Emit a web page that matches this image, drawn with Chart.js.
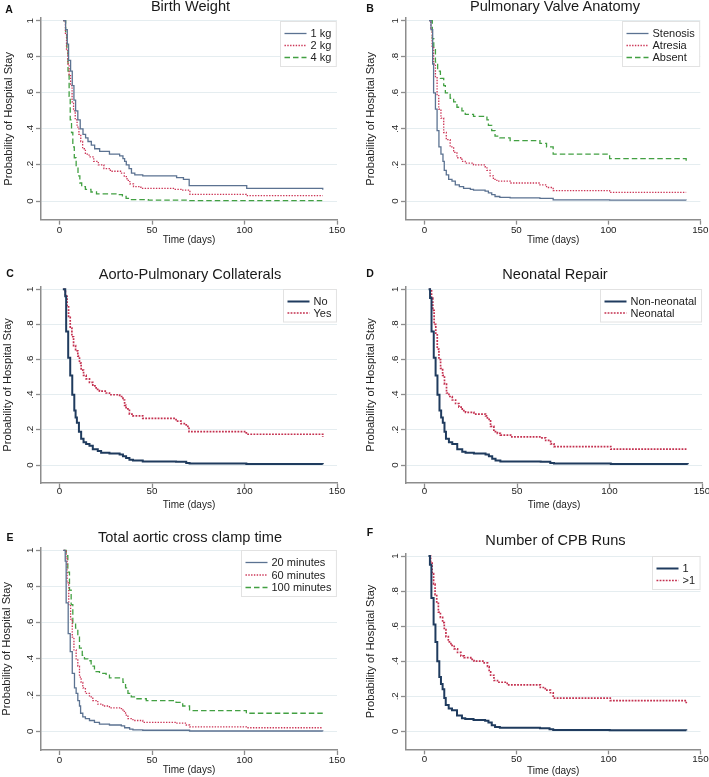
<!DOCTYPE html>
<html><head><meta charset="utf-8">
<script src="https://cdn.jsdelivr.net/npm/chart.js@4.4.1/dist/chart.umd.min.js"></script>
<style>
html,body{margin:0;padding:0;background:#fff;}
body{width:709px;height:777px;position:relative;overflow:hidden;font-family:"Liberation Sans",Arial,Helvetica,sans-serif;}
.pn{position:absolute;}
.pn canvas{display:block;}
.ttl{position:absolute;white-space:nowrap;font-size:14.6px;line-height:1;color:#1a1a1a;transform:translateX(-50%);}
.lt{position:absolute;white-space:nowrap;font-size:10.5px;font-weight:bold;line-height:1;color:#111;transform:translateX(-50%);}
</style></head><body>
<div class="pn" style="left:0;top:0"><canvas id="cA" width="354" height="258"></canvas></div>
<div class="pn" style="left:354px;top:0"><canvas id="cB" width="355" height="258"></canvas></div>
<div class="pn" style="left:0;top:258px"><canvas id="cC" width="354" height="259"></canvas></div>
<div class="pn" style="left:354px;top:258px"><canvas id="cD" width="355" height="259"></canvas></div>
<div class="pn" style="left:0;top:517px"><canvas id="cE" width="354" height="260"></canvas></div>
<div class="pn" style="left:354px;top:517px"><canvas id="cF" width="355" height="260"></canvas></div>

<div class="ttl" style="left:190.5px;top:-1.2px">Birth Weight</div>
<div class="ttl" style="left:555px;top:-0.6px">Pulmonary Valve Anatomy</div>
<div class="ttl" style="left:190px;top:266.8px">Aorto-Pulmonary Collaterals</div>
<div class="ttl" style="left:555px;top:266.8px">Neonatal Repair</div>
<div class="ttl" style="left:190px;top:529.8px">Total aortic cross clamp time</div>
<div class="ttl" style="left:555.5px;top:532.5px">Number of CPB Runs</div>

<div class="lt" style="left:9px;top:4px">A</div>
<div class="lt" style="left:370px;top:3px">B</div>
<div class="lt" style="left:10px;top:268px">C</div>
<div class="lt" style="left:370px;top:268px">D</div>
<div class="lt" style="left:10px;top:532.3px">E</div>
<div class="lt" style="left:370px;top:527.3px">F</div>

<script>
// ================= DATA =================
const xTickValues = [0, 50, 100, 150];
const xTickLabels = ['0', '50', '100', '150'];
const yTickValues = [0, 0.2, 0.4, 0.6, 0.8, 1];
const yTickLabels = ['0', '.2', '.4', '.6', '.8', '1'];

// A — Birth Weight
const bwLabels = ['1 kg', '2 kg', '4 kg'];
const bw1Days = [2, 3.3, 4.2, 4.9, 6, 6.9, 7.8, 8.7, 9.9, 11.2, 12.7, 14.1, 15.4, 17.2, 19, 21.7, 27, 32.5, 34.3, 35.2, 36.1, 37.6, 38.9, 40.7, 45, 63.3, 67, 70.1, 101.2, 141.5, 142.3];
const bw1Prob = [1, 0.95, 0.87, 0.78, 0.72, 0.64, 0.56, 0.5, 0.45, 0.4, 0.37, 0.35, 0.33, 0.31, 0.29, 0.275, 0.26, 0.25, 0.235, 0.22, 0.2, 0.18, 0.155, 0.145, 0.14, 0.13, 0.12, 0.085, 0.07, 0.07, 0.062];
const bw2Days = [2, 3.2, 3.8, 4.5, 5.2, 6, 6.8, 7.6, 8.5, 9.5, 10.5, 11.5, 12.5, 14, 16, 18.5, 21, 24, 27.5, 33, 35, 36.5, 38, 40, 44, 62, 66, 70.5, 101, 142.3];
const bw2Prob = [1, 0.93, 0.84, 0.76, 0.70, 0.64, 0.55, 0.50, 0.45, 0.41, 0.37, 0.33, 0.29, 0.26, 0.245, 0.22, 0.2, 0.18, 0.165, 0.155, 0.135, 0.115, 0.095, 0.08, 0.07, 0.065, 0.06, 0.037, 0.03, 0.03];
const bw4Days = [2, 3.3, 4, 4.6, 5.2, 5.8, 6.5, 7.2, 8, 9, 10, 11, 12, 14, 17, 20, 31, 34, 36, 38, 48, 70, 142.3];
const bw4Prob = [1, 0.94, 0.84, 0.72, 0.58, 0.45, 0.38, 0.30, 0.24, 0.19, 0.14, 0.10, 0.08, 0.065, 0.05, 0.04, 0.035, 0.025, 0.015, 0.008, 0.005, 0.002, 0.002];

// B — Pulmonary Valve Anatomy
const pvLabels = ['Stenosis', 'Atresia', 'Absent'];
const pvStenDays = [2.5, 3.6, 4.5, 5, 6, 6.9, 7.9, 9, 10.1, 10.8, 11.9, 13.2, 15, 16.8, 19, 21.3, 25, 26.7, 33, 34.8, 36.6, 38.4, 41, 46.6, 62.8, 70, 100.7, 142.3];
const pvStenProb = [1, 0.95, 0.76, 0.60, 0.51, 0.39, 0.30, 0.26, 0.22, 0.17, 0.145, 0.12, 0.11, 0.09, 0.08, 0.07, 0.065, 0.06, 0.055, 0.045, 0.035, 0.025, 0.02, 0.017, 0.015, 0.006, 0.005, 0.004];
const pvAtrDays = [2.5, 3.5, 4.2, 5, 6, 6.9, 7.8, 9, 10.5, 11.9, 14, 15.9, 17.7, 20.4, 22.2, 26.7, 33, 34, 35.7, 37.5, 39.4, 46.6, 62.8, 66.4, 70, 100.7, 142.3];
const pvAtrProb = [1, 0.95, 0.85, 0.76, 0.69, 0.59, 0.51, 0.46, 0.38, 0.34, 0.30, 0.27, 0.24, 0.22, 0.21, 0.20, 0.19, 0.17, 0.14, 0.12, 0.11, 0.10, 0.09, 0.075, 0.058, 0.048, 0.048];
const pvAbsDays = [2.9, 4.3, 5.1, 6, 7.2, 8.7, 10.5, 11.4, 14, 15.9, 17.7, 20.4, 22.2, 26.7, 34, 34.8, 36.6, 38.4, 41, 46.6, 62.8, 66.4, 70, 100.7, 141.8, 142.3];
const pvAbsProb = [1, 0.90, 0.84, 0.77, 0.72, 0.68, 0.64, 0.60, 0.57, 0.55, 0.52, 0.50, 0.48, 0.47, 0.45, 0.42, 0.39, 0.36, 0.35, 0.335, 0.32, 0.30, 0.26, 0.235, 0.235, 0.22];

// C — Aorto-Pulmonary Collaterals
const apcLabels = ['No', 'Yes'];
const apcNoDays = [1.8, 3.1, 3.6, 4.7, 5.8, 6.9, 8, 8.7, 9.4, 10.5, 11.7, 13, 14.4, 16.2, 18, 20.7, 22.5, 27, 32.5, 34.3, 36, 37.8, 39.7, 45, 63, 68.5, 70.3, 101, 142.3];
const apcNoProb = [1, 0.96, 0.76, 0.61, 0.51, 0.40, 0.31, 0.27, 0.24, 0.19, 0.15, 0.13, 0.12, 0.11, 0.09, 0.08, 0.07, 0.065, 0.06, 0.05, 0.04, 0.03, 0.025, 0.02, 0.018, 0.012, 0.008, 0.006, 0.005];
const apcYesDays = [2.2, 3.2, 4.1, 4.9, 5.8, 6.7, 7.6, 8.7, 9.9, 10.8, 11.7, 13, 14.4, 16.2, 18, 19.8, 21.6, 25.2, 27, 32.5, 34.3, 35.2, 36, 37.8, 39.7, 45, 63, 65.7, 68.5, 70, 101, 141.8, 142.3];
const apcYesProb = [1, 0.96, 0.90, 0.84, 0.78, 0.73, 0.68, 0.65, 0.62, 0.58, 0.54, 0.51, 0.49, 0.47, 0.45, 0.43, 0.42, 0.41, 0.40, 0.39, 0.37, 0.34, 0.32, 0.29, 0.28, 0.265, 0.25, 0.235, 0.22, 0.19, 0.175, 0.175, 0.16];

// D — Neonatal Repair
const neoLabels = ['Non-neonatal', 'Neonatal'];
const neoNonDays = [2.2, 3, 3.8, 5, 6, 7, 8.1, 9, 9.9, 10.8, 11.6, 13.2, 15, 17.7, 20.4, 22.2, 26.7, 33, 34.8, 36.6, 38.4, 41, 62.8, 68, 70, 100.7, 142.3];
const neoNonProb = [1, 0.95, 0.76, 0.61, 0.51, 0.40, 0.31, 0.27, 0.24, 0.19, 0.15, 0.13, 0.12, 0.09, 0.075, 0.07, 0.065, 0.06, 0.05, 0.035, 0.025, 0.02, 0.018, 0.012, 0.008, 0.006, 0.005];
const neoYesDays = [2.5, 3.8, 4.5, 5.2, 6.1, 6.9, 7.8, 8.7, 9.8, 10.8, 11.9, 13.2, 15, 16.8, 18.6, 20.4, 22.2, 26.7, 33, 34, 35.7, 37.5, 39.4, 41, 46.6, 62.8, 65.5, 68.2, 70, 100.7, 142.3];
const neoYesProb = [1, 0.95, 0.88, 0.80, 0.75, 0.66, 0.60, 0.55, 0.51, 0.46, 0.41, 0.39, 0.37, 0.35, 0.33, 0.31, 0.30, 0.29, 0.28, 0.26, 0.22, 0.19, 0.18, 0.17, 0.16, 0.155, 0.14, 0.12, 0.105, 0.09, 0.09];

// E — Total aortic cross clamp time
const xclLabels = ['20 minutes', '60 minutes', '100 minutes'];
const xcl20Days = [2, 3.1, 3.6, 4.7, 5.8, 6.9, 8.1, 9, 9.9, 10.8, 11.4, 12.6, 14, 16.2, 18.9, 21.6, 27, 33.4, 35.2, 37.9, 39.7, 45, 70.3, 142.3];
const xcl20Prob = [1, 0.94, 0.71, 0.54, 0.44, 0.32, 0.24, 0.21, 0.17, 0.14, 0.10, 0.08, 0.07, 0.06, 0.05, 0.04, 0.035, 0.03, 0.02, 0.012, 0.008, 0.006, 0.002, 0.001];
const xcl60Days = [2.2, 3.6, 4.1, 5, 6, 6.9, 7.8, 9, 9.9, 10.8, 11.7, 12.6, 14, 16.2, 18, 20.7, 23.4, 27, 32.5, 34.3, 35.7, 37, 39.7, 45, 63, 68.5, 70.3, 101, 142.3];
const xcl60Prob = [1, 0.96, 0.82, 0.70, 0.62, 0.52, 0.45, 0.40, 0.36, 0.30, 0.27, 0.24, 0.21, 0.19, 0.17, 0.15, 0.14, 0.13, 0.125, 0.11, 0.09, 0.07, 0.06, 0.05, 0.045, 0.035, 0.025, 0.02, 0.02];
const xcl100Days = [2.3, 3.6, 4.5, 5.4, 6.3, 7.2, 8.7, 9.9, 10.8, 12.3, 13.5, 15.3, 17.1, 18.9, 21.6, 25.2, 27, 33.4, 34.3, 35.7, 37, 38.8, 41.5, 46.9, 63, 66.6, 70.3, 101, 142.3];
const xcl100Prob = [1, 0.97, 0.88, 0.78, 0.70, 0.60, 0.57, 0.53, 0.46, 0.42, 0.40, 0.39, 0.36, 0.33, 0.32, 0.31, 0.295, 0.29, 0.27, 0.24, 0.21, 0.19, 0.18, 0.17, 0.16, 0.14, 0.115, 0.10, 0.10];

// F — Number of CPB Runs
const cpbLabels = ['1', '>1'];
const cpb1Days = [2.2, 3, 3.8, 5, 6, 7, 8.1, 9, 9.9, 10.8, 11.6, 13.2, 15, 17.7, 20.4, 22.2, 26.7, 33, 34.8, 36.6, 38.4, 41, 62.8, 68, 70, 100.7, 142.3];
const cpb1Prob = [1, 0.95, 0.76, 0.61, 0.51, 0.40, 0.31, 0.27, 0.24, 0.19, 0.15, 0.13, 0.12, 0.09, 0.075, 0.07, 0.065, 0.06, 0.05, 0.035, 0.025, 0.02, 0.018, 0.012, 0.008, 0.006, 0.005];
const cpbMoreDays = [2.5, 3.4, 4.2, 5, 5.8, 6.7, 7.6, 8.7, 9.9, 10.8, 11.7, 13, 14.4, 16.2, 18, 19.8, 21.6, 25.2, 27, 32.5, 34.3, 35.2, 36, 37.8, 39.7, 45, 63, 65.7, 68.5, 70, 101, 141.8, 142.3];
const cpbMoreProb = [1, 0.96, 0.90, 0.84, 0.78, 0.73, 0.68, 0.65, 0.62, 0.58, 0.54, 0.51, 0.49, 0.47, 0.45, 0.43, 0.42, 0.41, 0.40, 0.39, 0.37, 0.34, 0.32, 0.29, 0.28, 0.265, 0.25, 0.235, 0.22, 0.19, 0.175, 0.175, 0.16];

// ================= RENDERING =================
const FONT = '"Liberation Sans", Arial, Helvetica, sans-serif';
const AXIS_GRAY = '#8d8d8d';
const STYLES = {
  solidLight: {borderColor: '#5b7291', borderWidth: 1.3, borderDash: []},
  solidDark:  {borderColor: '#1f3b5e', borderWidth: 2, borderDash: []},
  dotLight:   {borderColor: '#cc3556', borderWidth: 1.3, borderDash: [1.4, 1.4]},
  dotDark:    {borderColor: '#c4304f', borderWidth: 1.7, borderDash: [1.8, 1.3]},
  dashed:     {borderColor: '#42a042', borderWidth: 1.3, borderDash: [5.5, 3]}
};

function toPoints(days, prob) { return days.map((d, i) => ({x: d, y: prob[i]})); }

const kmLegend = {
  id: 'kmLegend',
  afterDatasetsDraw(chart) {
    const o = chart.options.plugins.kmLegend;
    const ctx = chart.ctx, ca = chart.chartArea;
    const ds = chart.data.datasets;
    ctx.save();
    ctx.font = o.fontSize + 'px ' + FONT;
    const tw = Math.max(...ds.map(d => ctx.measureText(d.label).width));
    const w = 30 + tw + 5;
    const h = 12 + o.rowH * (ds.length - 1) + 9;
    const x0 = Math.round(ca.right - 1 - w) + 0.5;
    const y0 = Math.round(ca.top + 2.5) + 0.5;
    ctx.fillStyle = '#fff';
    ctx.fillRect(x0, y0, w, h);
    ctx.strokeStyle = '#e2e2e2';
    ctx.lineWidth = 1;
    ctx.strokeRect(x0, y0, w, h);
    ds.forEach((d, i) => {
      const cy = y0 + 12 + o.rowH * i;
      ctx.beginPath();
      ctx.strokeStyle = d.borderColor;
      ctx.lineWidth = d.borderWidth;
      ctx.setLineDash(d.borderDash || []);
      ctx.moveTo(x0 + 4, cy);
      ctx.lineTo(x0 + 26, cy);
      ctx.stroke();
      ctx.setLineDash([]);
      ctx.fillStyle = '#222';
      ctx.textAlign = 'left';
      ctx.textBaseline = 'middle';
      ctx.fillText(d.label, x0 + 30, cy + 0.5);
    });
    ctx.restore();
  }
};

const rotatedYLabels = {
  id: 'rotatedYLabels',
  afterDraw(chart) {
    const o = chart.options.plugins.rotatedYLabels;
    const s = chart.scales.y, ctx = chart.ctx;
    ctx.save();
    ctx.font = o.fontSize + 'px ' + FONT;
    ctx.fillStyle = '#222';
    ctx.textAlign = 'center';
    ctx.textBaseline = 'middle';
    yTickValues.forEach((v, i) => {
      const py = s.getPixelForValue(v);
      ctx.save();
      ctx.translate(o.cx, py);
      ctx.rotate(-Math.PI / 2);
      ctx.fillText(yTickLabels[i], 0, 0);
      ctx.restore();
    });
    ctx.restore();
  }
};

function makePanel(canvasId, L, series) {
  const yMax = 1.015, yMin = -0.103;
  return new Chart(document.getElementById(canvasId), {
    type: 'line',
    data: {
      datasets: series.map(s => Object.assign({
        label: s.label,
        data: toPoints(s.days, s.prob),
        stepped: true,
        pointRadius: 0,
        fill: false,
        tension: 0
      }, STYLES[s.style]))
    },
    options: {
      responsive: false,
      animation: false,
      events: [],
      layout: {padding: {left: 0, top: L.top, right: L.W - L.right, bottom: 0}},
      plugins: {
        legend: {display: false},
        tooltip: {enabled: false},
        kmLegend: {fontSize: 11, rowH: L.rowH},
        rotatedYLabels: {cx: L.yLabCx, fontSize: 9.8}
      },
      scales: {
        x: {
          type: 'linear', min: -10, max: 150,
          afterBuildTicks: s => { s.ticks = xTickValues.map(v => ({value: v})); },
          afterFit: s => { s.height = L.H - L.bottom; },
          grid: {display: true, drawOnChartArea: false, drawTicks: true, tickLength: 5, tickColor: AXIS_GRAY, tickWidth: 1.3},
          border: {display: true, color: AXIS_GRAY, width: 1.5},
          ticks: {
            font: {family: FONT, size: 9.8, lineHeight: 1},
            color: '#222', padding: L.xTickPad, maxRotation: 0, autoSkip: false,
            callback: (v, i) => xTickLabels[i]
          },
          title: {display: true, text: 'Time (days)', color: '#222',
                  font: {family: FONT, size: 10, lineHeight: 1.2},
                  padding: {top: 0, bottom: L.xTitlePad}}
        },
        y: {
          type: 'linear', min: yMin, max: yMax,
          afterBuildTicks: s => { s.ticks = yTickValues.map(v => ({value: v})); },
          afterFit: s => { s.width = L.left; },
          grid: {display: true, color: '#e5edf0', lineWidth: 1, drawTicks: true, tickLength: 5, tickColor: AXIS_GRAY, tickWidth: 1.3},
          border: {display: true, color: AXIS_GRAY, width: 1.5},
          ticks: {display: false},
          title: {display: true, text: 'Probability of Hospital Stay', color: '#222',
                  font: {family: FONT, size: 11.2, lineHeight: 1.2},
                  padding: {top: L.yTitlePad, bottom: 0}}
        }
      }
    },
    plugins: [kmLegend, rotatedYLabels]
  });
}

makePanel('cA', {W: 354, H: 258, left: 41, right: 337, top: 18, bottom: 219.6, yLabCx: 30.5, yTitlePad: 2.3, xTickPad: 0.5, xTitlePad: 11.3, rowH: 12}, [
  {label: bwLabels[0], days: bw1Days, prob: bw1Prob, style: 'solidLight'},
  {label: bwLabels[1], days: bw2Days, prob: bw2Prob, style: 'dotLight'},
  {label: bwLabels[2], days: bw4Days, prob: bw4Prob, style: 'dashed'}
]);
makePanel('cB', {W: 355, H: 258, left: 52, right: 348, top: 18, bottom: 219.6, yLabCx: 41, yTitlePad: 10.3, xTickPad: 0.5, xTitlePad: 11.3, rowH: 12}, [
  {label: pvLabels[0], days: pvStenDays, prob: pvStenProb, style: 'solidLight'},
  {label: pvLabels[1], days: pvAtrDays, prob: pvAtrProb, style: 'dotLight'},
  {label: pvLabels[2], days: pvAbsDays, prob: pvAbsProb, style: 'dashed'}
]);
makePanel('cC', {W: 354, H: 259, left: 41, right: 337, top: 28.7, bottom: 225.1, yLabCx: 30.5, yTitlePad: 1.6, xTickPad: -2, xTitlePad: 5.3, rowH: 11.5}, [
  {label: apcLabels[0], days: apcNoDays, prob: apcNoProb, style: 'solidDark'},
  {label: apcLabels[1], days: apcYesDays, prob: apcYesProb, style: 'dotDark'}
]);
makePanel('cD', {W: 355, H: 259, left: 52, right: 348, top: 28.7, bottom: 225.1, yLabCx: 41, yTitlePad: 10.3, xTickPad: -2, xTitlePad: 5.3, rowH: 11.5}, [
  {label: neoLabels[0], days: neoNonDays, prob: neoNonProb, style: 'solidDark'},
  {label: neoLabels[1], days: neoYesDays, prob: neoYesProb, style: 'dotDark'}
]);
makePanel('cE', {W: 354, H: 260, left: 41, right: 337, top: 30.6, bottom: 233, yLabCx: 30.5, yTitlePad: 0.3, xTickPad: 0.4, xTitlePad: 0.7, rowH: 12.5}, [
  {label: xclLabels[0], days: xcl20Days, prob: xcl20Prob, style: 'solidLight'},
  {label: xclLabels[1], days: xcl60Days, prob: xcl60Prob, style: 'dotLight'},
  {label: xclLabels[2], days: xcl100Days, prob: xcl100Prob, style: 'dashed'}
]);
makePanel('cF', {W: 355, H: 260, left: 52, right: 348, top: 36.4, bottom: 232.4, yLabCx: 41, yTitlePad: 10.3, xTickPad: 0.4, xTitlePad: 0, rowH: 12}, [
  {label: cpbLabels[0], days: cpb1Days, prob: cpb1Prob, style: 'solidDark'},
  {label: cpbLabels[1], days: cpbMoreDays, prob: cpbMoreProb, style: 'dotDark'}
]);
</script>
</body></html>
